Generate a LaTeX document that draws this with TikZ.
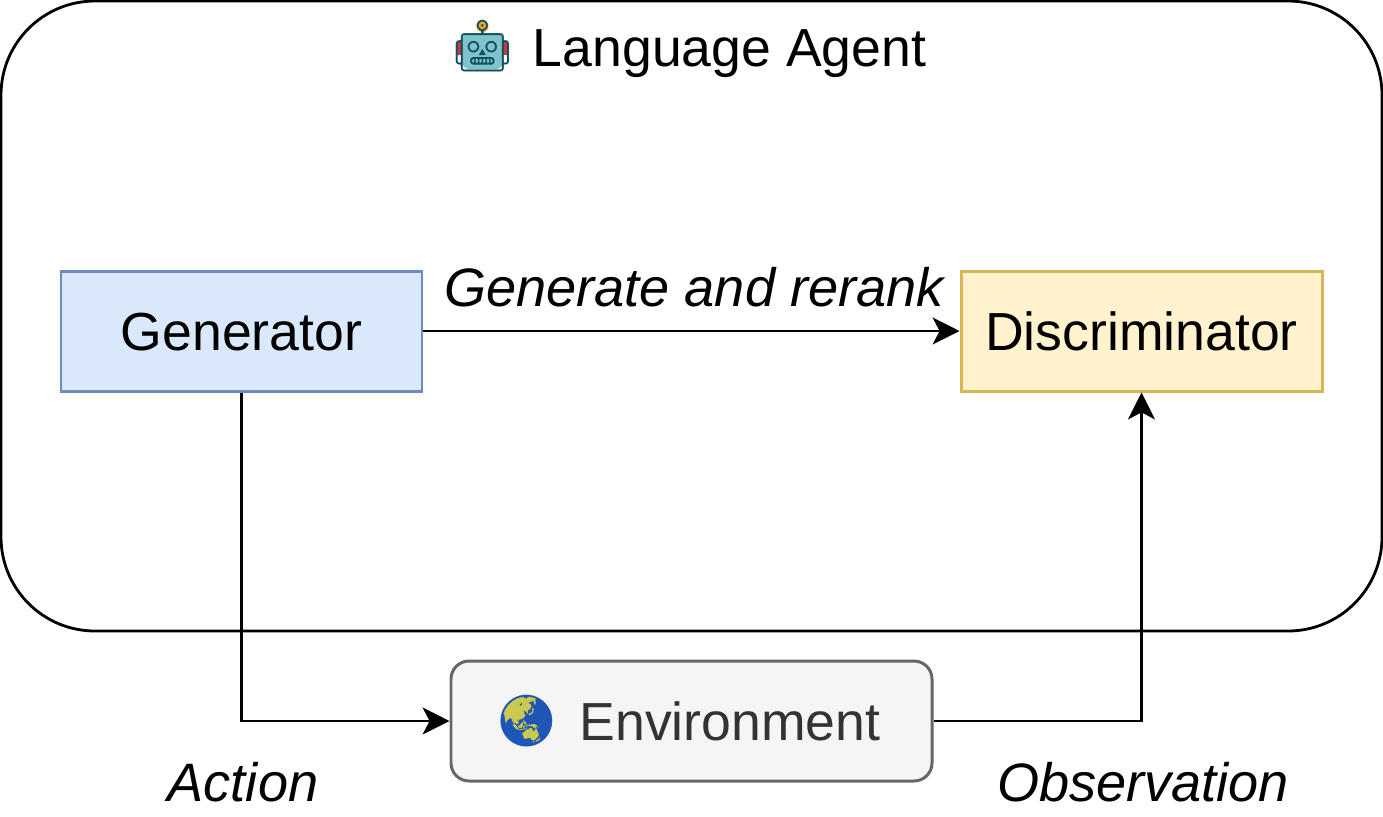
\documentclass[tikz,border=0pt]{standalone}
\usepackage{fontspec}
\setmainfont{Liberation Sans}
\newfontfamily\emojifont{Noto Emoji}
\usetikzlibrary{arrows.meta}
\definecolor{genfill}{HTML}{DAE8FC}
\definecolor{gendraw}{HTML}{6C8EBF}
\definecolor{disfill}{HTML}{FFF2CC}
\definecolor{disdraw}{HTML}{D6B656}
\definecolor{envfill}{HTML}{F5F5F5}
\definecolor{envdraw}{HTML}{666666}
\definecolor{envtext}{HTML}{333333}
\definecolor{robotink}{HTML}{12505E}
\definecolor{robotface}{HTML}{7FC3CC}
\definecolor{robotear}{HTML}{C8393C}
\definecolor{robotball}{HTML}{F5A623}
\definecolor{globeink}{HTML}{1F56B5}
\definecolor{globeland}{HTML}{C9C94F}
\tikzset{
  label/.style={font=\fontsize{30.5}{36}\selectfont,inner sep=0pt,text height=24pt,text depth=1.4pt},
  tag/.style={label,font=\fontsize{30.8}{36}\selectfont\itshape},
  module/.style={label,draw,line width=1.7pt,minimum width=361*0.02cm,minimum height=120*0.02cm},
  link/.style={line width=1.6pt,-{Stealth[length=15.3pt,width=15.3pt,inset=4pt]}},
  emoji/.style={font=\emojifont\fontsize{29}{36}\selectfont,inner sep=0pt},
}
\begin{document}
\begin{tikzpicture}[x=0.02cm,y=-0.02cm]
  \def\W{1383}
  \def\H{816}
  \useasboundingbox (0,0) rectangle (\W,\H);
  \draw[line width=1.6pt,rounded corners=94*0.02cm] (1,1) rectangle (\W-1,631);
  \node[label] (agent) at (729.5,47) {Language Agent};
  % robot colours sit under the glyph
  \fill[robotear] (457,42) rectangle (508,55);
  \fill[robotface,rounded corners=4pt] (462,33) rectangle (503,69);
  \fill[robotball] (482.5,26) circle (6*0.02cm);
  \node[emoji,text=robotink] (robot) at (482.5,46) {🤖};

  \node[module,fill=genfill,draw=gendraw] (generator) at (241.5,331) {Generator};
  \node[module,fill=disfill,draw=disdraw] (discriminator) at (1141.5,331) {Discriminator};
  \node[module,fill=envfill,draw=envdraw,text=envtext,minimum width=481*0.02cm,rounded corners=18*0.02cm] (environment) at (691.5,721)
    {\hspace*{43.7pt}Environment};
  \fill[globeland] (527,721) circle (25*0.02cm);
  \node[emoji,text=globeink] (globe) at (527,721) {🌏};

  \draw[link] (generator) -- (discriminator);
  \draw[link] (generator.south) |- (environment.west);
  \draw[link] (environment.east) -| (discriminator.south);

  \node[tag] (rerank) at (694,287) {Generate and rerank};
  \node[tag] (action) at (243,782) {Action};
  \node[tag] (observation) at (1143,782) {Observation};
\end{tikzpicture}
\end{document}
